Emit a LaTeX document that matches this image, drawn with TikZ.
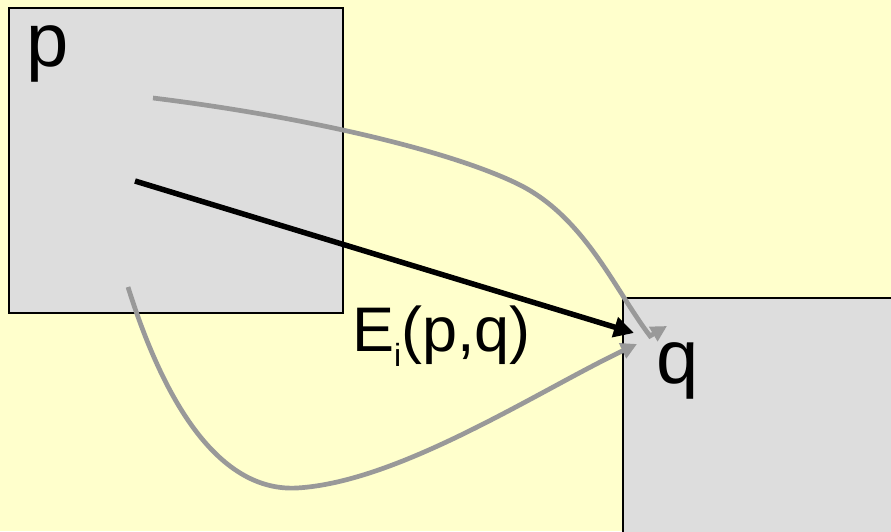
\documentclass[tikz,border=0pt]{standalone}
\usepackage{fontspec}
\setmainfont{Liberation Sans}
\usetikzlibrary{arrows.meta}
\definecolor{bg}{HTML}{FFFFCC}
\definecolor{boxfill}{HTML}{DDDDDD}
\definecolor{curvegray}{HTML}{999999}
\begin{document}
\begin{tikzpicture}[x=1pt,y=-1pt,
  region/.style={draw=black, line width=1.3pt, fill=boxfill, inner sep=0pt},
  mainarrow/.style={draw=black, line width=5.5pt, -{Triangle[length=20pt,width=20pt]}},
  grayarrow/.style={draw=curvegray, line width=4.7pt, -{Triangle[length=16pt,width=16pt]}},
  lbl/.style={inner sep=0pt, anchor=base west}]
\fill[bg] (0,0) rectangle (891,531);
\useasboundingbox (0,0) rectangle (891,531);
\node[region, minimum width=334pt, minimum height=305pt] (P) at (176,160.5) {};
\node[region, minimum width=290pt, minimum height=260pt] (Q) at (768,428) {};
\node[lbl, font=\fontsize{76}{76}\selectfont] (plabel) at (26,66) {p};
\node[lbl, font=\fontsize{76}{76}\selectfont] (qlabel) at (656,383) {q};
\node[lbl, font=\fontsize{63}{63}\selectfont] (elabel) at (352,351) {E\raisebox{-15pt}{\fontsize{32}{32}\selectfont i}(p,q)};
\coordinate (a1) at (135,181);
\coordinate (b1) at (634,333);
\draw[mainarrow] (a1) -- (b1);
\coordinate (a2) at (153,98);
\coordinate (m2) at (520,185);
\coordinate (h2) at (650,336);
\coordinate (b2) at (667,326);
\draw[grayarrow] (a2) .. controls (300,116) and (450,150) .. (m2) .. controls (585,218) and (615,290) .. (h2) -- (b2);
\coordinate (a3) at (128,287);
\coordinate (m3) at (297,488);
\coordinate (b3) at (637,344);
\draw[grayarrow] (a3) .. controls (165,405) and (220,492) .. (m3) .. controls (400,482) and (540,390) .. (b3);
\end{tikzpicture}
\end{document}
